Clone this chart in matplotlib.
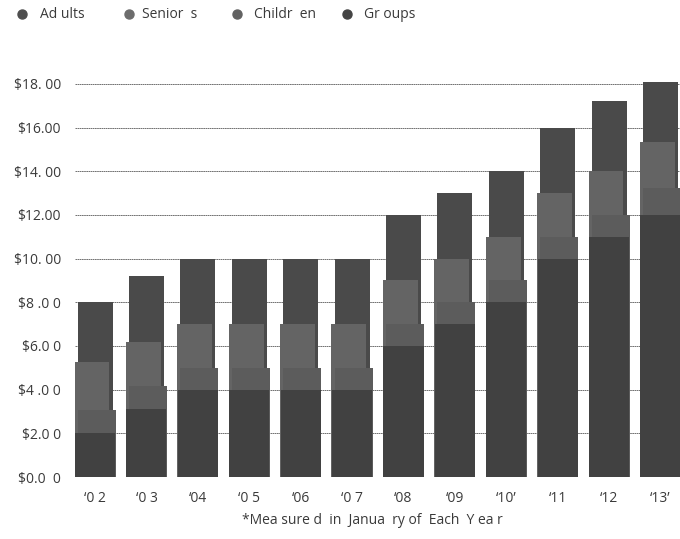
import matplotlib.pyplot as plt
import numpy as np
from matplotlib.lines import Line2D

# ticket prices by year, one overlapping bar per group
years = ["\u20180 2", "\u20180 3", "\u201804", "\u20180 5", "\u201806", "\u20180 7",
         "\u201808", "\u201809", "\u201810\u2019", "\u201811", "\u201812", "\u201813\u2019"]
adults = [8, 9.2, 10, 10, 10, 10, 12, 13, 14, 16, 17.2, 18.1]
seniors = [5.25, 6.2, 7, 7, 7, 7, 9, 10, 11, 13, 14, 15.35]
children = [3.05, 4.15, 5, 5, 5, 5, 7, 8, 9, 11, 12, 13.25]
groups = [2, 3.1, 4, 4, 4, 4, 6, 7, 8, 10, 11, 12]

ytick_vals = [0, 2, 4, 6, 8, 10, 12, 14, 16, 18]
ytick_text = ["$0.0  0", "$2.0 0", "$4 .0 0", "$6.0 0", "$8 .0 0",
              "$10. 00", "$12.00", "$14. 00", "$16.00", "$18. 00"]

legend_names = ["Ad ults", "Senior  s", "Childr  en", "Gr oups"]
colors = ["#4a4a4a", "#646464", "#5c5c5c", "#414141"]
legend_colors = ["#4e4e4e", "#6c6c6c", "#626262", "#444444"]

plt.rcParams["font.family"] = ["Open Sans", "DejaVu Sans"]
text_color = "#3a3a3a"
fs = 10

W, H = 680, 539
fig = plt.figure(figsize=(W / 100, H / 100), dpi=100)
ax = fig.add_axes([75 / W, (H - 477) / H, 605 / W, (477 - 73) / H])

x = np.arange(len(years))
# back to front: adults, seniors (shifted left), children (shifted right), groups
ax.bar(x, adults, width=0.68, color=colors[0], zorder=2)
ax.bar(x - 0.06, seniors, width=0.68, color=colors[1], zorder=3)
ax.bar(x + 0.03, children, width=0.74, color=colors[2], zorder=4)
ax.bar(x, groups, width=0.78, color=colors[3], zorder=5)

ax.set_xlim(-0.39, 11.38)
ax.set_ylim(0, 18.5)
ax.set_yticks(ytick_vals)
ax.set_yticklabels(ytick_text)
ax.set_xticks(x)
ax.set_xticklabels(years)
ax.tick_params(length=0, labelsize=fs, colors=text_color)
ax.tick_params(axis="y", pad=10)
ax.tick_params(axis="x", pad=10)
ax.yaxis.grid(True, color="#5a5a5a", linewidth=0.6, linestyle=(0, (2, 0.6)))
ax.set_axisbelow(True)
for s in ax.spines.values():
    s.set_visible(False)

# legend row along the top
marker_x = [22, 129, 237, 347]
label_x = [40, 142, 254, 364]
for mx, lx, name, c in zip(marker_x, label_x, legend_names, legend_colors):
    fig.add_artist(Line2D([mx / W], [1 - 14 / H], marker="o", markersize=6.5,
                          color=c, linestyle="none", transform=fig.transFigure))
    fig.text(lx / W, 1 - 14 / H, name, fontsize=fs, color=text_color,
             ha="left", va="center")

fig.text(372 / W, 1 - 521 / H, "*Mea sure d  in  Janua  ry of  Each  Y ea r",
         fontsize=fs, color=text_color, ha="center", va="center")

fig.savefig("out.png", dpi=100)
